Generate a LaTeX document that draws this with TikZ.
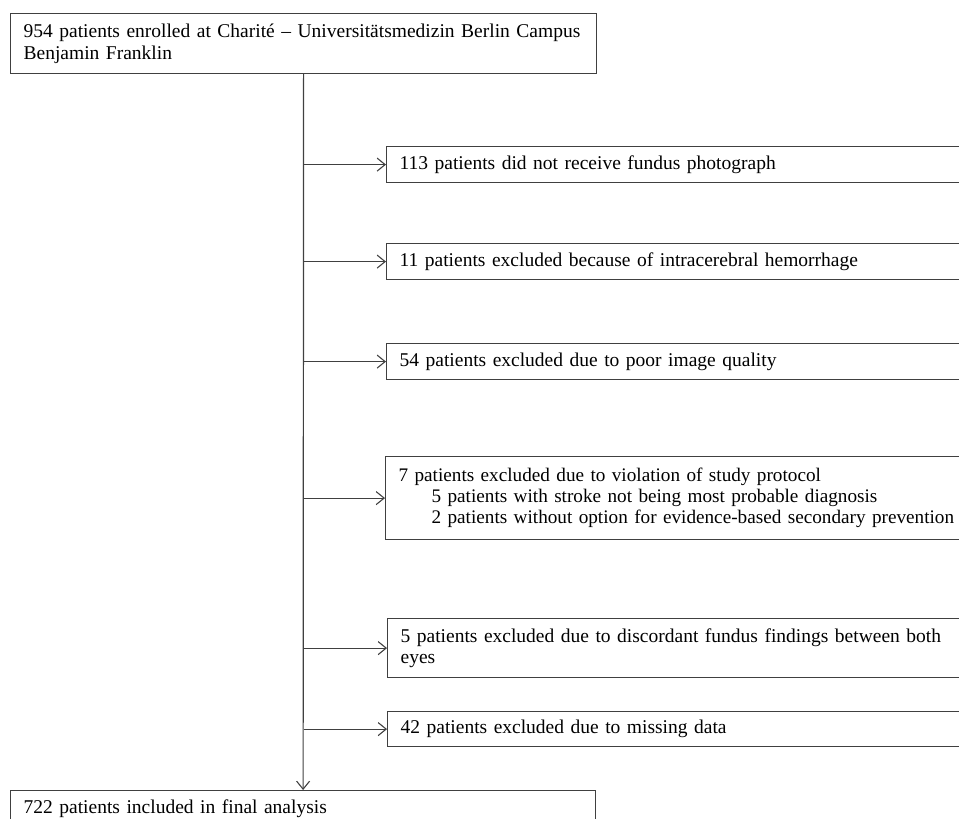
\documentclass[tikz,border=0pt]{standalone}
\usepackage{fontspec}
\setmainfont{Liberation Serif}
\usetikzlibrary{arrows.meta}
\begin{document}
\begin{tikzpicture}[x=1pt,y=-1pt,
  box/.style={draw=black!75, line width=1.2pt, rectangle, anchor=north west,
    align=left, inner xsep=13pt, inner ysep=0pt,
    font=\fontsize{19.5}{21.5}\selectfont},
  side/.style={box, text width=700pt},
  arr/.style={draw=black!75, line width=1.2pt, -{Straight Barb[length=8pt,width=13pt,line width=1.1pt]}}]
\clip (0,0) rectangle (959,819);
\node[box, text width=560pt, minimum height=60pt] (top) at (10,13)
  {954 patients enrolled at Charité – Universitätsmedizin Berlin Campus\\Benjamin Franklin};
\node[side, minimum height=36pt] (b1) at (386,146)
  {113 patients did not receive fundus photograph};
\node[side, minimum height=36pt] (b2) at (386,243)
  {11 patients excluded because of intracerebral hemorrhage};
\node[side, minimum height=36pt] (b3) at (386,343)
  {54 patients excluded due to poor image quality};
\node[side, minimum height=83pt, font=\fontsize{19.2}{21}\selectfont] (b4) at (385,456)
  {7 patients excluded due to violation of study protocol\\
   \hspace*{33pt}5 patients with stroke not being most probable diagnosis\\
   \hspace*{33pt}2 patients without option for evidence-based secondary prevention};
\node[side, minimum height=59pt] (b5) at (387,618)
  {5 patients excluded due to discordant fundus findings between both\\eyes};
\node[side, minimum height=35pt] (b6) at (387,711)
  {42 patients excluded due to missing data};
\node[box, text width=559pt, minimum height=36pt] (bot) at (10,790)
  {722 patients included in final analysis};
\draw[arr] (top.south) -- (bot.north);
\foreach \b in {b1,b2,b3,b4,b5,b6}
  \draw[arr] (top.south |- \b.west) -- (\b.west);
\end{tikzpicture}
\end{document}
